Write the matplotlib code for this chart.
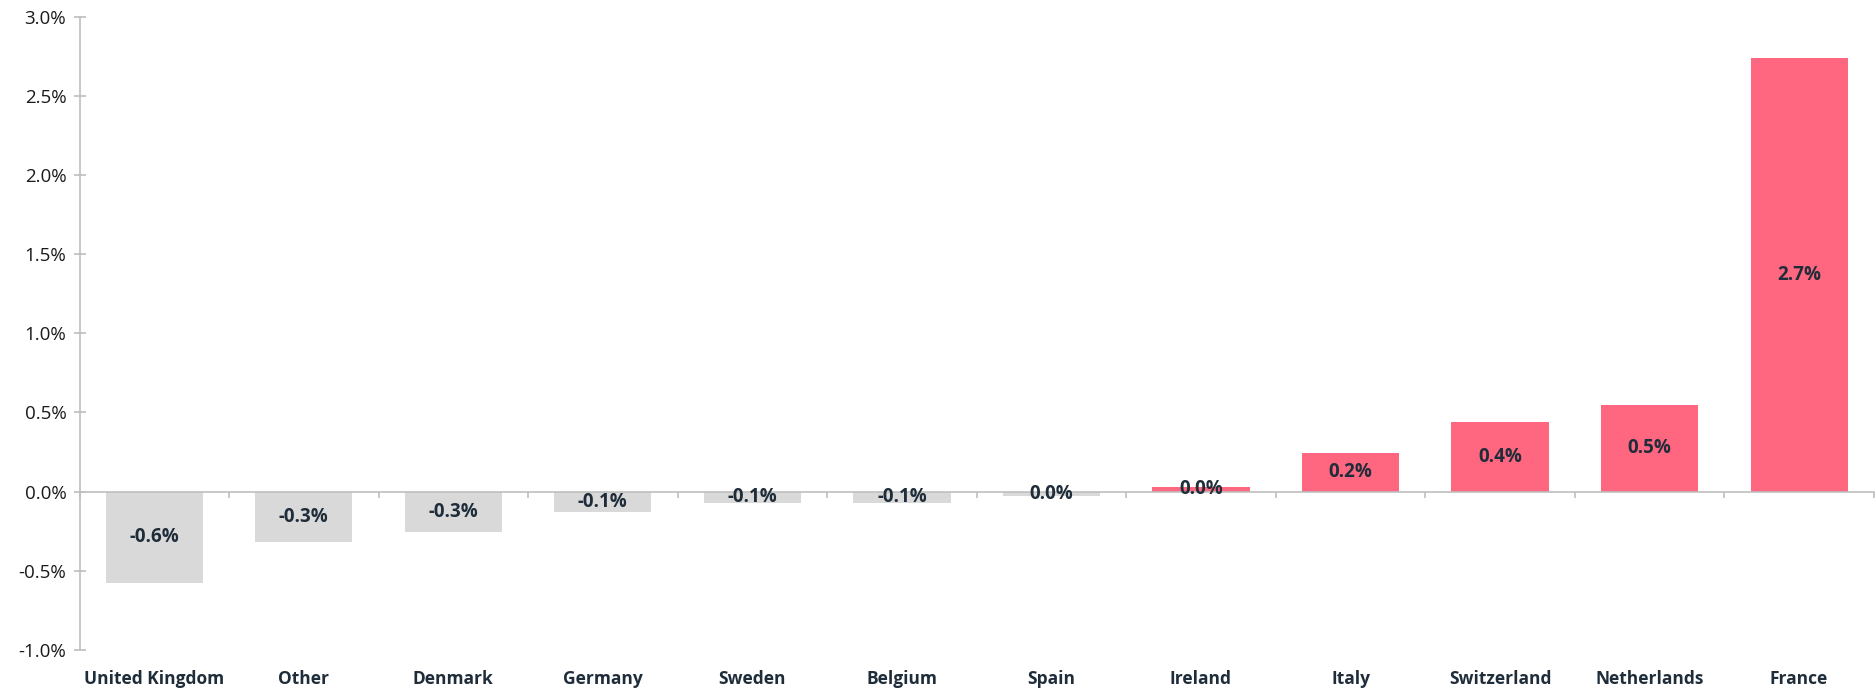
import matplotlib.pyplot as plt
import numpy as np

plt.rcParams['font.family'] = ['Open Sans', 'DejaVu Sans']

countries = ['United Kingdom', 'Other', 'Denmark', 'Germany', 'Sweden', 'Belgium',
             'Spain', 'Ireland', 'Italy', 'Switzerland', 'Netherlands', 'France']
change_pct = [-0.578, -0.316, -0.256, -0.126, -0.069, -0.069,
              -0.025, 0.03, 0.242, 0.44, 0.545, 2.738]
value_labels = ['-0.6%', '-0.3%', '-0.3%', '-0.1%', '-0.1%', '-0.1%',
                '0.0%', '0.0%', '0.2%', '0.4%', '0.5%', '2.7%']
y_ticks = [-1.0, -0.5, 0.0, 0.5, 1.0, 1.5, 2.0, 2.5, 3.0]

GREY = '#D9D9D9'
PINK = '#FF667F'
AXIS = '#BFBFBF'
TEXT = '#1F2D3A'

fig = plt.figure(figsize=(18.75, 6.88), dpi=100)
ax = fig.add_axes([0.0424, 0.0552, 0.957, 0.9208])

x = np.arange(len(countries))
colors = [PINK if v > 0 else GREY for v in change_pct]
bars = ax.bar(x, change_pct, width=0.65, color=colors, zorder=2)

# labels centred inside each bar
for b, lab in zip(bars, value_labels):
    cy = b.get_y() + b.get_height() / 2
    ax.text(b.get_x() + b.get_width() / 2, cy, lab, ha='center', va='center',
            fontsize=13.5, fontweight='bold', color=TEXT, zorder=3)

ax.set_xlim(-0.5, len(countries) - 0.5)
ax.set_ylim(-1.0, 3.0)

# category axis sits on zero, ticks between categories
ax.spines['bottom'].set_position(('data', 0))
ax.spines['bottom'].set_color(AXIS)
ax.spines['bottom'].set_linewidth(1.2)
ax.spines['left'].set_color(AXIS)
ax.spines['left'].set_linewidth(1.2)
ax.spines['top'].set_visible(False)
ax.spines['right'].set_visible(False)

ax.set_xticks(np.arange(len(countries) + 1) - 0.5)
ax.set_xticklabels([])
ax.tick_params(axis='x', direction='out', length=4.5, width=1.2, color=AXIS)

# country names along the bottom edge
for xi, name in zip(x, countries):
    ax.text(xi, -0.045, name, transform=ax.get_xaxis_transform(), ha='center',
            va='center', fontsize=12.5, fontweight='bold', color=TEXT)

ax.set_yticks(y_ticks)
ax.set_yticklabels([f'{t:.1f}%' for t in y_ticks])
ax.tick_params(axis='y', direction='inout', length=9, width=1.2, color=AXIS,
               labelsize=13.5, labelcolor='#1A1A1A', pad=5)

fig.savefig('out.png', dpi=100)
